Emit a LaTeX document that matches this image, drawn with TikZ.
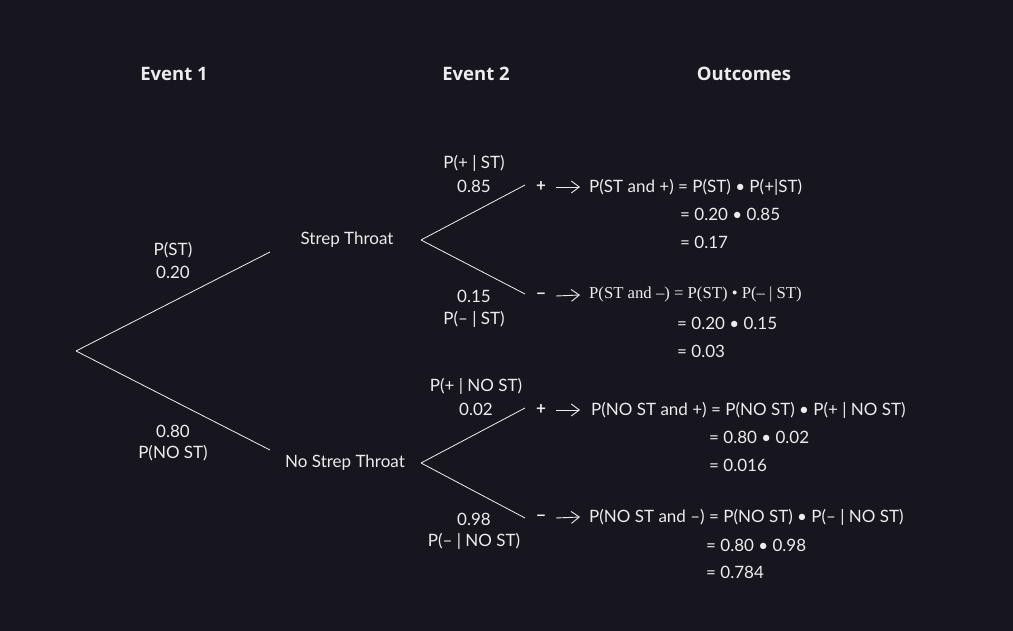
\documentclass[tikz,border=0pt]{standalone}
\usepackage{fontspec}
\setmainfont{Lato}
\newfontfamily\headfont{Open Sans}
\newfontfamily\oddserif{Liberation Serif}
\usetikzlibrary{arrows.meta}

\definecolor{bgdark}{RGB}{23,22,30}
\definecolor{inkwhite}{RGB}{236,236,236}

\tikzset{
  lbl/.style={text=inkwhite, font=\fontsize{17}{20}\selectfont, inner sep=0pt},
  head/.style={text=inkwhite, font=\headfont\fontsize{18.5}{21}\selectfont\bfseries, inner sep=0pt},
  res/.style={lbl, anchor=west},
  sgn/.style={lbl, font=\fontsize{17}{20}\selectfont\bfseries},
  branch/.style={draw=inkwhite!90, line width=0.8pt},
  yields/.style={draw=inkwhite, line width=0.9pt, -{Straight Barb[length=8pt,width=12pt]}},
}

\begin{document}
\begin{tikzpicture}[x=1pt,y=-1pt]
% background and frame of the picture
\fill[bgdark] (0,0) rectangle (1013,631);
\useasboundingbox (0,0) rectangle (1013,631);

% column titles
\node[head] (ev1) at (174,74) {Event 1};
\node[head] (ev2) at (476,74) {Event 2};
\node[head] (outc) at (744,74) {Outcomes};

% first split
\coordinate (root) at (76,351);
\coordinate (stEnd) at (270,252);
\coordinate (nstEnd) at (270,450);
\draw[branch] (root) -- (stEnd);
\draw[branch] (root) -- (nstEnd);
\node[lbl] (pst) at (173,250) {P(ST)};
\node[lbl] (pstv) at (173,272) {0.20};
\node[lbl] (pnstv) at (173,431) {0.80};
\node[lbl] (pnst) at (173,453) {P(NO ST)};

% events of the first split
\node[lbl] (st) at (347,240) {Strep Throat};
\node[lbl] (nst) at (345,463) {No Strep Throat};

% second split, strep throat
\coordinate (stFork) at (421,240);
\coordinate (stPos) at (525,185);
\coordinate (stNeg) at (525,294);
\draw[branch] (stFork) -- (stPos);
\draw[branch] (stFork) -- (stNeg);
\node[lbl] (ppst) at (474,163) {P(+ | ST)};
\node[lbl] (ppstv) at (474,186) {0.85};
\node[lbl] (pmstv) at (474,296) {0.15};
\node[lbl] (pmst) at (474,319) {P(– | ST)};

% second split, no strep throat
\coordinate (nstFork) at (421,463);
\coordinate (nstPos) at (525,408);
\coordinate (nstNeg) at (525,518);
\draw[branch] (nstFork) -- (nstPos);
\draw[branch] (nstFork) -- (nstNeg);
\node[lbl] (ppnst) at (476,386) {P(+ | NO ST)};
\node[lbl] (ppnstv) at (476,409) {0.02};
\node[lbl] (pmnstv) at (474,519) {0.98};
\node[lbl] (pmnst) at (474,541) {P(– | NO ST)};

% signs and outcomes
\node[sgn] (sgnA) at (541,187) {+};
\node[res] (outA) at (589,187) {P(ST and +) = P(ST) • P(+|ST)};
\node[res] (outAb) at (680,214) {= 0.20 • 0.85};
\node[res] (outAc) at (680,242) {= 0.17};

\node[sgn] (sgnB) at (541,296) {−};
\node[res, font=\oddserif\fontsize{16.7}{19}\selectfont] (outB) at (589,295) {P(ST and –) = P(ST) • P(– | ST)};
\node[res] (outBb) at (677,323) {= 0.20 • 0.15};
\node[res] (outBc) at (677,351) {= 0.03};

\node[sgn] (sgnC) at (541,410) {+};
\node[res] (outC) at (591,410) {P(NO ST and +) = P(NO ST) • P(+ | NO ST)};
\node[res] (outCb) at (709,437) {= 0.80 • 0.02};
\node[res] (outCc) at (709,465) {= 0.016};

\node[sgn] (sgnD) at (541,518) {−};
\node[res] (outD) at (589,517) {P(NO ST and –) = P(NO ST) • P(– | NO ST)};
\node[res] (outDb) at (706,545) {= 0.80 • 0.98};
\node[res] (outDc) at (706,572) {= 0.784};

% arrows from signs to outcomes
\draw[yields] (556,187) -- ([xshift=-9pt]outA.west);
\draw[yields] (556,296) -- ([xshift=-9pt]outB.west);
\draw[yields] (556,410) -- ([xshift=-11pt]outC.west);
\draw[yields] (556,518) -- ([xshift=-9pt]outD.west);
\end{tikzpicture}
\end{document}
